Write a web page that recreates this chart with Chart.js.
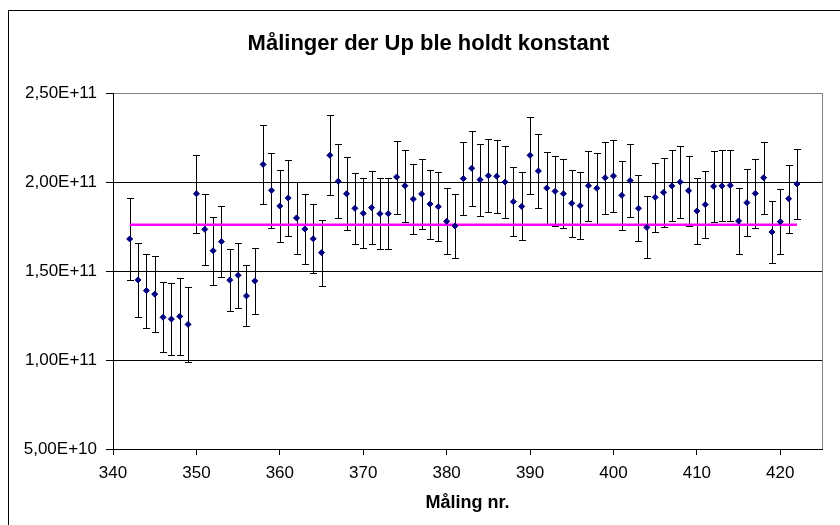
<!DOCTYPE html>
<html>
<head>
<meta charset="utf-8">
<script src="https://cdn.jsdelivr.net/npm/chart.js@4.4.0/dist/chart.umd.min.js"></script>
<style>
  html, body { margin: 0; padding: 0; background: #fff; }
  #wrap { position: relative; width: 840px; height: 525px; }
</style>
</head>
<body>
<div id="wrap"><canvas id="chart" width="840" height="525"></canvas></div>
<script>
const measurementNo = [342, 343, 344, 345, 346, 347, 348, 349, 350, 351, 352, 353, 354, 355, 356, 357, 358, 359, 360, 361,
    362, 363, 364, 365, 366, 367, 368, 369, 370, 371, 372, 373, 374, 375, 376, 377, 378, 379, 380, 381,
    382, 383, 384, 385, 386, 387, 388, 389, 390, 391, 392, 393, 394, 395, 396, 397, 398, 399, 400, 401,
    402, 403, 404, 405, 406, 407, 408, 409, 410, 411, 412, 413, 414, 415, 416, 417, 418, 419, 420, 421, 422];

const measured = [1.68e11, 1.45e11, 1.39e11, 1.37e11, 1.24e11, 1.23e11, 1.245e11, 1.20e11, 1.934e11, 1.734e11,
    1.614e11, 1.665e11, 1.449e11, 1.476e11, 1.36e11, 1.444e11, 2.099e11, 1.953e11, 1.865e11, 1.91e11,
    1.798e11, 1.736e11, 1.681e11, 1.603e11, 2.15e11, 2.004e11, 1.934e11, 1.852e11, 1.824e11, 1.856e11,
    1.822e11, 1.822e11, 2.028e11, 1.979e11, 1.904e11, 1.933e11, 1.876e11, 1.861e11, 1.779e11, 1.753e11,
    2.019e11, 2.077e11, 2.013e11, 2.035e11, 2.032e11, 2.0e11, 1.889e11, 1.863e11, 2.15e11, 2.062e11,
    1.966e11, 1.948e11, 1.934e11, 1.88e11, 1.867e11, 1.979e11, 1.965e11, 2.024e11, 2.034e11, 1.925e11,
    2.008e11, 1.852e11, 1.745e11, 1.914e11, 1.942e11, 1.978e11, 2.0e11, 1.951e11, 1.837e11, 1.873e11,
    1.976e11, 1.978e11, 1.981e11, 1.781e11, 1.884e11, 1.936e11, 2.024e11, 1.719e11, 1.777e11, 1.906e11, 1.989e11];

// symmetric error (+/-)
const errors = [0.232e11, 0.207e11, 0.208e11, 0.214e11, 0.196e11, 0.204e11, 0.215e11, 0.212e11, 0.219e11, 0.199e11,
    0.19e11, 0.2e11, 0.175e11, 0.183e11, 0.171e11, 0.184e11, 0.223e11, 0.212e11, 0.204e11, 0.212e11,
    0.203e11, 0.197e11, 0.193e11, 0.185e11, 0.224e11, 0.209e11, 0.205e11, 0.198e11, 0.196e11, 0.203e11,
    0.199e11, 0.201e11, 0.205e11, 0.201e11, 0.195e11, 0.199e11, 0.194e11, 0.194e11, 0.185e11, 0.182e11,
    0.204e11, 0.21e11, 0.203e11, 0.206e11, 0.206e11, 0.203e11, 0.193e11, 0.191e11, 0.216e11, 0.207e11,
    0.2e11, 0.196e11, 0.195e11, 0.19e11, 0.19e11, 0.197e11, 0.199e11, 0.203e11, 0.204e11, 0.195e11,
    0.203e11, 0.185e11, 0.174e11, 0.193e11, 0.195e11, 0.199e11, 0.2e11, 0.196e11, 0.183e11, 0.188e11,
    0.198e11, 0.199e11, 0.198e11, 0.183e11, 0.187e11, 0.193e11, 0.202e11, 0.176e11, 0.183e11, 0.19e11, 0.199e11];

const constLevel = 1.76e11;
const constRange = [342, 422];
const xTicks = [340, 350, 360, 370, 380, 390, 400, 410, 420];

const FONT = 'Arial, "Liberation Sans", sans-serif';

const points = measurementNo.map((x, i) => ({ x: x, y: measured[i] }));
const levelLine = constRange.map(x => ({ x: x, y: constLevel }));

// frame + grey plot border; title box nudged to match the original centring
const framePlugin = {
    id: 'frame',
    afterLayout(chart) {
        if (chart.titleBlock) chart.titleBlock.left += 35;
    },
    beforeDraw(chart) {
        const { ctx, chartArea: a } = chart;
        ctx.save();
        ctx.fillStyle = '#fff';
        ctx.fillRect(0, 0, chart.width, chart.height);
        ctx.strokeStyle = '#000';
        ctx.lineWidth = 1;
        ctx.strokeRect(8.5, 10.5, 840, 530);
        ctx.strokeStyle = '#808080';
        ctx.strokeRect(a.left + 0.5, a.top + 0.5, a.right - a.left, a.bottom - a.top);
        ctx.restore();
    }
};

// error bars through the library's scales
const errorBarPlugin = {
    id: 'errorBars',
    beforeDatasetsDraw(chart) {
        const { ctx, scales: { x, y } } = chart;
        ctx.save();
        ctx.strokeStyle = '#000';
        ctx.lineWidth = 1;
        measurementNo.forEach((m, i) => {
            const px = Math.round(x.getPixelForValue(m)) + 0.5;
            const top = Math.round(y.getPixelForValue(measured[i] + errors[i])) + 0.5;
            const bot = Math.round(y.getPixelForValue(measured[i] - errors[i])) + 0.5;
            ctx.beginPath();
            ctx.moveTo(px, top); ctx.lineTo(px, bot);
            ctx.moveTo(px - 3.5, top); ctx.lineTo(px + 3.5, top);
            ctx.moveTo(px - 3.5, bot); ctx.lineTo(px + 3.5, bot);
            ctx.stroke();
        });
        ctx.restore();
    }
};

new Chart(document.getElementById('chart'), {
    type: 'scatter',
    data: {
        datasets: [
            {
                label: 'Måling',
                data: points,
                order: 0,
                pointStyle: 'rectRot',
                pointRadius: 3,
                borderWidth: 1,
                backgroundColor: '#000080',
                borderColor: '#000080'
            },
            {
                label: 'Konstant',
                data: levelLine,
                order: 1,
                showLine: true,
                borderColor: '#ff00ff',
                borderWidth: 2.5,
                pointRadius: 0
            }
        ]
    },
    options: {
        responsive: false,
        animation: false,
        events: [],
        layout: { padding: { left: 0, right: 18, top: 0, bottom: 9 } },
        plugins: {
            legend: { display: false },
            tooltip: { enabled: false },
            title: {
                display: true,
                text: 'Målinger der Up ble holdt konstant',
                color: '#000',
                font: { family: FONT, size: 22, weight: 'bold', lineHeight: 1.2 },
                padding: { top: 31, bottom: 35.6 }
            }
        },
        scales: {
            x: {
                type: 'linear',
                min: 340,
                max: 425,
                afterBuildTicks: s => { s.ticks = xTicks.map(v => ({ value: v })); },
                afterFit: s => { s.height = 67; },
                ticks: { color: '#000', font: { family: FONT, size: 17 }, padding: 8, maxRotation: 0 },
                grid: { drawOnChartArea: false, drawTicks: true, tickLength: 6, color: '#000' },
                border: { color: '#000', width: 1 },
                title: {
                    display: true,
                    text: 'Måling nr.',
                    color: '#000',
                    font: { family: FONT, size: 18, weight: 'bold', lineHeight: 1.2 },
                    padding: { top: 9, bottom: 2 }
                }
            },
            y: {
                min: 5e10,
                max: 2.5e11,
                afterFit: s => { s.width = 113; },
                ticks: {
                    stepSize: 5e10,
                    color: '#000',
                    padding: 9,
                    font: { family: FONT, size: 17 },
                    callback: v => v.toExponential(2).replace('.', ',').replace('e', 'E')
                },
                grid: {
                    color: c => (c.tick && c.tick.value === 2.5e11) ? '#808080' : '#000',
                    tickColor: '#000',
                    tickLength: 7
                },
                border: { color: '#000', width: 1 }
            }
        }
    },
    plugins: [framePlugin, errorBarPlugin]
});
</script>
</body>
</html>
